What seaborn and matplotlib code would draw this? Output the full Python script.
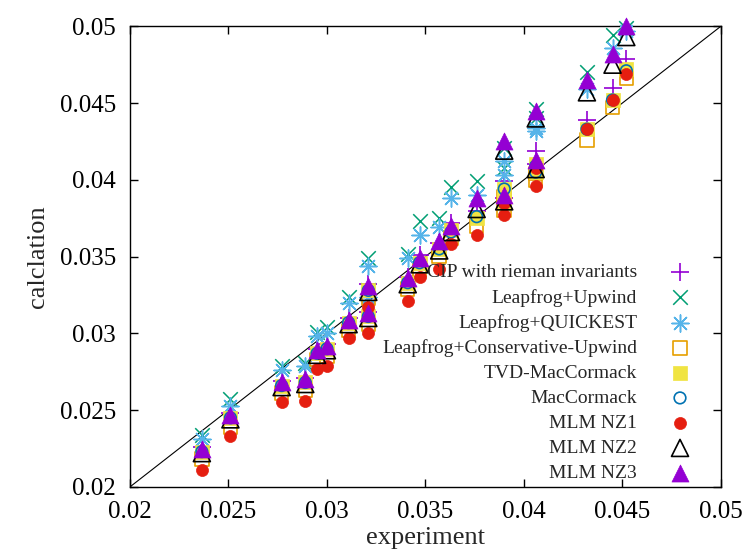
import matplotlib
matplotlib.use("Agg")
import matplotlib.pyplot as plt
import pandas as pd
import seaborn as sns

# experiment values (x) shared by every method
experiment = [0.02365, 0.0251, 0.0277, 0.0289, 0.0295, 0.0300, 0.0311, 0.0321, 0.0321,
              0.0341, 0.0347, 0.0357, 0.0363, 0.0376, 0.0390, 0.0390, 0.0406, 0.0406,
              0.0432, 0.0445, 0.0452]

cip = [0.0226, 0.0248, 0.0269, 0.0271, 0.0290, 0.0293, 0.0310, 0.0332, 0.0314,
       0.0337, 0.0351, 0.0359, 0.0372, 0.0380, 0.0399, 0.0388, 0.0419, 0.0410,
       0.0439, 0.0460, 0.0479]
upwind = [0.0234, 0.0257, 0.0279, 0.0281, 0.0301, 0.0304, 0.0324, 0.0349, 0.0328,
          0.0352, 0.0373, 0.0375, 0.0395, 0.0399, 0.0421, 0.0408, 0.0446, 0.0440,
          0.0470, 0.0494, 0.0499]
quickest = [0.0231, 0.0253, 0.0276, 0.0279, 0.0298, 0.0300, 0.0320, 0.0344, 0.0324,
            0.0349, 0.0364, 0.0369, 0.0388, 0.0390, 0.0412, 0.0403, 0.0434, 0.0432,
            0.0459, 0.0486, 0.0497]
cons_upwind = [0.0218, 0.0239, 0.0261, 0.0263, 0.0283, 0.0285, 0.0302, 0.0323, 0.0306,
               0.0329, 0.0341, 0.0350, 0.0362, 0.0370, 0.0389, 0.0380, 0.0404, 0.0400,
               0.0426, 0.0447, 0.0466]
tvd = [0.0223, 0.0245, 0.0266, 0.0268, 0.0287, 0.0290, 0.0307, 0.0328, 0.0311,
       0.0333, 0.0346, 0.0355, 0.0367, 0.0375, 0.0394, 0.0385, 0.0410, 0.0405,
       0.0433, 0.0452, 0.0472]
maccormack = [0.0223, 0.0245, 0.0266, 0.0268, 0.0287, 0.0290, 0.0307, 0.0328, 0.0311,
              0.0333, 0.0346, 0.0355, 0.0366, 0.0376, 0.0394, 0.0385, 0.0409, 0.0405,
              0.0433, 0.0452, 0.0471]
nz1 = [0.0211, 0.0233, 0.0255, 0.0256, 0.0277, 0.0279, 0.0297, 0.0317, 0.0300,
       0.0321, 0.0337, 0.0342, 0.0358, 0.0364, 0.0385, 0.0377, 0.0408, 0.0396,
       0.0433, 0.0452, 0.0469]
nz2 = [0.0222, 0.0244, 0.0265, 0.0267, 0.0286, 0.0289, 0.0306, 0.0327, 0.0310,
       0.0332, 0.0345, 0.0354, 0.0366, 0.0381, 0.0419, 0.0386, 0.0440, 0.0407,
       0.0457, 0.0475, 0.0493]
nz3 = [0.0225, 0.0247, 0.0268, 0.0270, 0.0289, 0.0292, 0.0309, 0.0331, 0.0313,
       0.0336, 0.0349, 0.0360, 0.0370, 0.0388, 0.0425, 0.0390, 0.0445, 0.0413,
       0.0465, 0.0482, 0.0500]

methods = ["CIP with rieman invariants", "Leapfrog+Upwind", "Leapfrog+QUICKEST",
           "Leapfrog+Conservative-Upwind", "TVD-MacCormack", "MacCormack",
           "MLM NZ1", "MLM NZ2", "MLM NZ3"]
values = [cip, upwind, quickest, cons_upwind, tvd, maccormack, nz1, nz2, nz3]

ticks = [0.02, 0.025, 0.03, 0.035, 0.04, 0.045, 0.05]
tick_labels = ["0.02", "0.025", "0.03", "0.035", "0.04", "0.045", "0.05"]

df = pd.DataFrame({"experiment": experiment})
for name, v in zip(methods, values):
    df[name] = v
long_df = df.melt(id_vars="experiment", var_name="method", value_name="calclation")

styles = {
    "CIP with rieman invariants": dict(marker="+", s=150, color="#9400d3", linewidth=1.2),
    "Leapfrog+Upwind": dict(marker="x", s=110, color="#009e73", linewidth=1.1),
    "Leapfrog+QUICKEST": dict(marker=(8, 2, 0), s=150, color="#56b4e9", linewidth=1.1),
    "Leapfrog+Conservative-Upwind": dict(marker="s", s=95, color="#e69f00", facecolor="none",
                                         edgecolor="#e69f00", linewidth=1.2),
    "TVD-MacCormack": dict(marker="s", s=95, color="#f0e442", edgecolor="#f0e442", linewidth=0.5),
    "MacCormack": dict(marker="o", s=70, color="#0072b2", facecolor="none",
                       edgecolor="#0072b2", linewidth=1.2),
    "MLM NZ1": dict(marker="o", s=75, color="#e51e10", edgecolor="#e51e10", linewidth=0.5),
    "MLM NZ2": dict(marker="^", s=150, color="black", facecolor="none",
                    edgecolor="black", linewidth=1.2),
    "MLM NZ3": dict(marker="^", s=150, color="#9400d3", edgecolor="#9400d3", linewidth=0.5),
}

sns.set_style("ticks")
plt.rcParams["font.family"] = ["Liberation Serif", "DejaVu Serif"]

fig, ax = plt.subplots(figsize=(7.47, 5.59), dpi=100)
fig.subplots_adjust(left=0.174, right=0.965, bottom=0.129, top=0.953)

ax.axline((0, 0), slope=1, color="black", linewidth=0.8, zorder=1)

for name in methods:
    sub = long_df[long_df["method"] == name]
    sns.scatterplot(data=sub, x="experiment", y="calclation", ax=ax, label=name,
                    clip_on=False, zorder=3, **styles[name])

ax.set_xlim(0.02, 0.05)
ax.set_ylim(0.02, 0.05)
ax.set_xticks(ticks, tick_labels)
ax.set_yticks(ticks, tick_labels)
ax.tick_params(direction="in", top=True, right=True, length=6, width=1,
               labelsize=18, pad=10, colors="black")
for sp in ax.spines.values():
    sp.set_color("black")
    sp.set_linewidth(1)
ax.set_xlabel("experiment", fontsize=19, labelpad=3)
ax.set_ylabel("calclation", fontsize=19, labelpad=8)

# markerfirst=False right-aligns the rows, so labels end flush before the markers
handles, labels = ax.get_legend_handles_labels()
ax.legend(handles, labels, loc="lower right", bbox_to_anchor=(0.972, 0.0),
          markerfirst=False, frameon=False, fontsize=14, handletextpad=1.2,
          labelspacing=0.38, borderaxespad=0.1, borderpad=0.15, scatterpoints=1)

fig.savefig("out.png", dpi=100)
